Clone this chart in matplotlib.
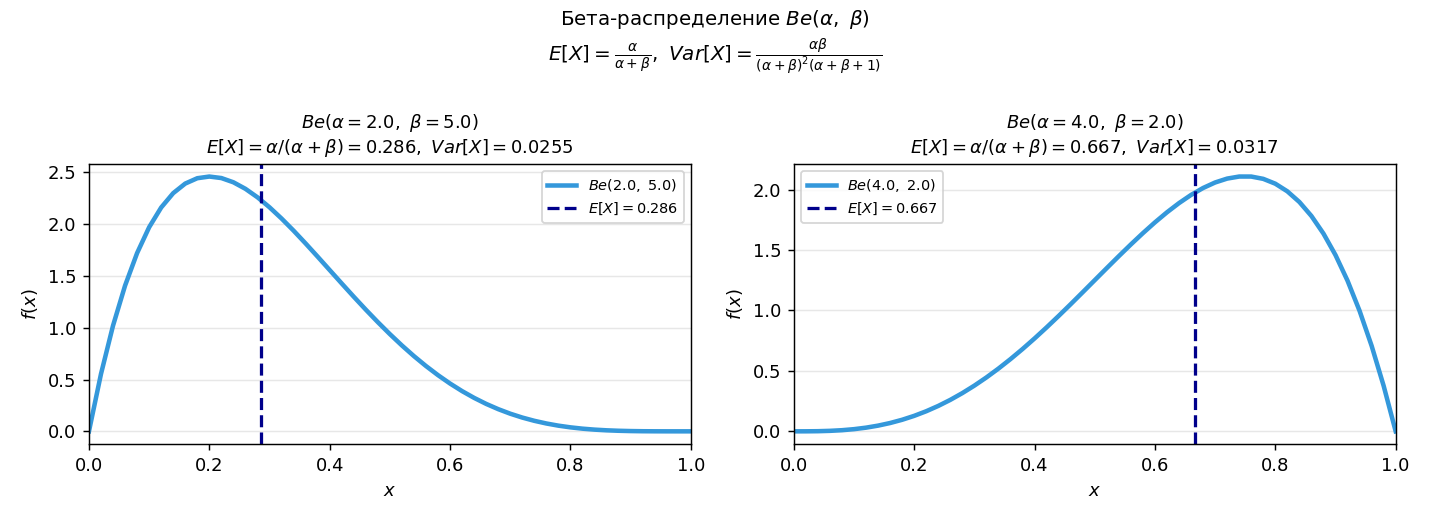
import matplotlib
matplotlib.use("Agg")
import matplotlib.pyplot as plt

# parameters of the two distributions
alphas = [2.0, 4.0]
betas = [5.0, 2.0]
means = [0.286, 0.667]
variances = [0.0255, 0.0317]

# x grid and density values
x_vals = [i / 50 for i in range(51)]

pdf_2_5 = [0.0000, 0.5534, 1.0192, 1.4053, 1.7193, 1.9683, 2.1589, 2.2974, 2.3898, 2.4414,
           2.4576, 2.4430, 2.4021, 2.3390, 2.2574, 2.1609, 2.0526, 1.9355, 1.8119, 1.6845,
           1.5552, 1.4259, 1.2981, 1.1734, 1.0529, 0.9375, 0.8281, 0.7253, 0.6297, 0.5415,
           0.4608, 0.3878, 0.3225, 0.2646, 0.2140, 0.1701, 0.1328, 0.1015, 0.0757, 0.0548,
           0.0384, 0.0258, 0.0165, 0.0099, 0.0055, 0.0027, 0.0011, 0.0004, 0.0001, 0.0000,
           0.0000]

pdf_4_2 = [0.0000, 0.0002, 0.0012, 0.0041, 0.0094, 0.0180, 0.0304, 0.0472, 0.0688, 0.0956,
           0.1280, 0.1661, 0.2101, 0.2601, 0.3161, 0.3780, 0.4456, 0.5188, 0.5972, 0.6804,
           0.7680, 0.8594, 0.9541, 1.0512, 1.1502, 1.2500, 1.3498, 1.4487, 1.5454, 1.6389,
           1.7280, 1.8113, 1.8874, 1.9550, 2.0124, 2.0580, 2.0902, 2.1072, 2.1071, 2.0880,
           2.0480, 1.9849, 1.8967, 1.7810, 1.6355, 1.4580, 1.2459, 0.9967, 0.7078, 0.3765,
           0.0000]

curves = [pdf_2_5, pdf_4_2]
legend_locs = ['upper right', 'upper left']

fig, axes = plt.subplots(1, 2, figsize=(11, 4), dpi=130)

fig.suptitle("Бета-распределение $Be(\\alpha,\\ \\beta)$\n"
             "$E[X] = \\frac{\\alpha}{\\alpha + \\beta},\\ "
             "Var[X] = \\frac{\\alpha\\beta}{(\\alpha + \\beta)^2(\\alpha + \\beta + 1)}$",
             fontsize=11, y=0.985)

for ax, a, b, m, v, y, loc in zip(axes, alphas, betas, means, variances, curves, legend_locs):
    ax.plot(x_vals, y, color='#3498db', lw=2.5, label=f"$Be({a},\\ {b})$")
    ax.axvline(m, color='darkblue', ls='--', lw=1.8, label=f"$E[X] = {m}$")
    ax.set_xlim(0, 1)
    ax.set_title(f"$Be(\\alpha = {a},\\ \\beta = {b})$\n"
                 f"$E[X] = \\alpha/(\\alpha + \\beta) = {m},\\ Var[X] = {v}$",
                 fontsize=10)
    ax.set_xlabel("$x$")
    ax.set_ylabel("$f(x)$")
    ax.grid(axis='y', alpha=0.3)
    ax.legend(loc=loc, fontsize=8)

plt.subplots_adjust(left=0.0622, right=0.976, top=0.685, bottom=0.146, wspace=0.171)
plt.savefig("out.png", dpi=130)
